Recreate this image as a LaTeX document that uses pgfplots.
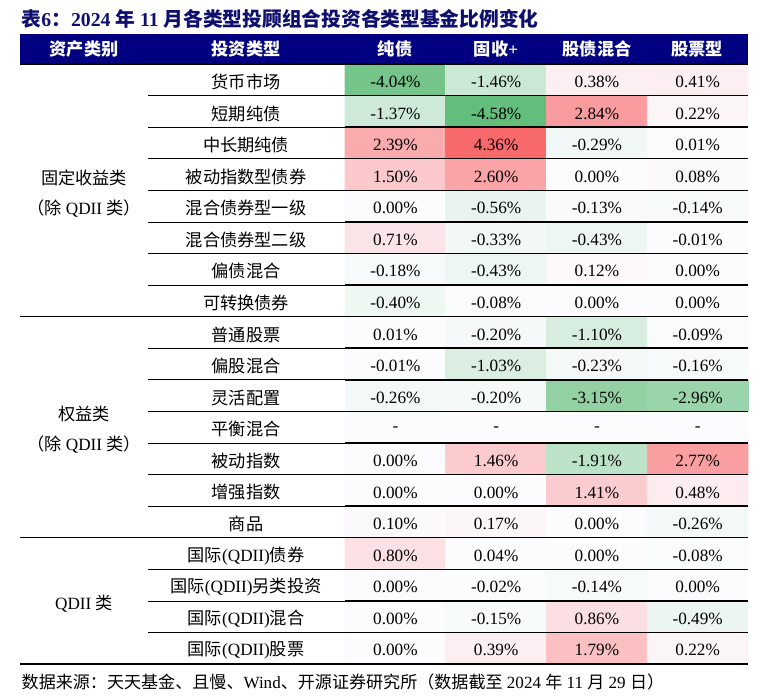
\documentclass[border=0pt]{standalone}
\usepackage{fontspec}
\setmainfont{Liberation Serif}
\newfontfamily\cjk{Noto Sans CJK SC}
\newcommand\zh[1]{{\cjk #1}}
\usepackage{pgfplots}
\pgfplotsset{compat=1.18}
\usepackage{pgfplotstable}
\definecolor{hdr}{RGB}{0,0,128}
\definecolor{ttl}{RGB}{15,15,110}
\newcommand\bodyfont{\fontsize{12.9}{14}\selectfont}

\pgfplotstableread{
x y c lab
395.375 79.79 -4.04 -4.04\%
496.125 79.79 -1.46 -1.46\%
596.875 79.79 0.38 0.38\%
697.625 79.79 0.41 0.41\%
395.375 111.37 -1.37 -1.37\%
496.125 111.37 -4.58 -4.58\%
596.875 111.37 2.84 2.84\%
697.625 111.37 0.22 0.22\%
395.375 142.95 2.39 2.39\%
496.125 142.95 4.36 4.36\%
596.875 142.95 -0.29 -0.29\%
697.625 142.95 0.01 0.01\%
395.375 174.53 1.50 1.50\%
496.125 174.53 2.60 2.60\%
596.875 174.53 0.00 0.00\%
697.625 174.53 0.08 0.08\%
395.375 206.11 0.00 0.00\%
496.125 206.11 -0.56 -0.56\%
596.875 206.11 -0.13 -0.13\%
697.625 206.11 -0.14 -0.14\%
395.375 237.68 0.71 0.71\%
496.125 237.68 -0.33 -0.33\%
596.875 237.68 -0.43 -0.43\%
697.625 237.68 -0.01 -0.01\%
395.375 269.26 -0.18 -0.18\%
496.125 269.26 -0.43 -0.43\%
596.875 269.26 0.12 0.12\%
697.625 269.26 0.00 0.00\%
395.375 300.84 -0.40 -0.40\%
496.125 300.84 -0.08 -0.08\%
596.875 300.84 0.00 0.00\%
697.625 300.84 0.00 0.00\%
395.375 332.42 0.01 0.01\%
496.125 332.42 -0.20 -0.20\%
596.875 332.42 -1.10 -1.10\%
697.625 332.42 -0.09 -0.09\%
395.375 364.00 -0.01 -0.01\%
496.125 364.00 -1.03 -1.03\%
596.875 364.00 -0.23 -0.23\%
697.625 364.00 -0.16 -0.16\%
395.375 395.58 -0.26 -0.26\%
496.125 395.58 -0.20 -0.20\%
596.875 395.58 -3.15 -3.15\%
697.625 395.58 -2.96 -2.96\%
395.375 427.16 0 -
496.125 427.16 0 -
596.875 427.16 0 -
697.625 427.16 0 -
395.375 458.74 0.00 0.00\%
496.125 458.74 1.46 1.46\%
596.875 458.74 -1.91 -1.91\%
697.625 458.74 2.77 2.77\%
395.375 490.32 0.00 0.00\%
496.125 490.32 0.00 0.00\%
596.875 490.32 1.41 1.41\%
697.625 490.32 0.48 0.48\%
395.375 521.89 0.10 0.10\%
496.125 521.89 0.17 0.17\%
596.875 521.89 0.00 0.00\%
697.625 521.89 -0.26 -0.26\%
395.375 553.47 0.80 0.80\%
496.125 553.47 0.04 0.04\%
596.875 553.47 0.00 0.00\%
697.625 553.47 -0.08 -0.08\%
395.375 585.05 0.00 0.00\%
496.125 585.05 -0.02 -0.02\%
596.875 585.05 -0.14 -0.14\%
697.625 585.05 0.00 0.00\%
395.375 616.63 0.00 0.00\%
496.125 616.63 -0.15 -0.15\%
596.875 616.63 0.86 0.86\%
697.625 616.63 -0.49 -0.49\%
395.375 648.21 0.00 0.00\%
496.125 648.21 0.39 0.39\%
596.875 648.21 1.79 1.79\%
697.625 648.21 0.22 0.22\%
}\cells

\begin{document}
\begin{tikzpicture}
\begin{axis}[
  scale only axis, width=578.25pt, height=524.25pt,
  xmin=0, xmax=771, ymin=0, ymax=699, y dir=reverse,
  hide axis, clip=false,
  colormap={gwr}{rgb255(0pt)=(99,190,123); rgb255(458pt)=(252,252,255); rgb255(894pt)=(248,105,107)},
  point meta min=-4.58, point meta max=4.36,
]
\path (axis cs:0,0) rectangle (axis cs:771,699);
% header band
\fill[hdr] (axis cs:20,34) rectangle (axis cs:748,64);
% heat cells
\addplot[matrix plot*, mesh/cols=4, point meta=explicit] table[x=x, y=y, meta=c]{\cells};
% cell values
\addplot[draw=none, mark=none, nodes near coords, point meta=explicit symbolic,
  nodes near coords style={anchor=center, font=\bodyfont, text=black, yshift=-1.6pt}]
  table[x=x, y=y, meta=lab]{\cells};
% lines
\draw[line width=0.8pt] (axis cs:20,64) -- (axis cs:748,64);
\pgfplotsinvokeforeach{95.58,127.16,158.74,190.32,221.89,253.47,285.05,348.21,379.79,411.37,442.95,474.53,506.11,569.26,600.84,632.42}{
  \draw[line width=0.5pt] (axis cs:148,#1) -- (axis cs:345,#1);
  \draw[line width=1.1pt] (axis cs:345,#1) -- (axis cs:748,#1);
}
\pgfplotsinvokeforeach{316.63,537.68}{
  \draw[line width=0.6pt] (axis cs:20,#1) -- (axis cs:345,#1);
  \draw[line width=1.1pt] (axis cs:345,#1) -- (axis cs:748,#1);
}
\draw[line width=0.8pt] (axis cs:20,664) -- (axis cs:345,664);
\draw[line width=1.1pt] (axis cs:345,664) -- (axis cs:748,664);
% title
\node[anchor=west, text=ttl, font=\fontsize{14.8}{16}\selectfont\bfseries] at (axis cs:17,19)
  {\zh{表}6\zh{：}2024 \zh{年} 11 \zh{月各类型投顾组合投资各类型基金比例变化}};
% header labels
\begin{scope}[every node/.style={text=white, font=\bodyfont\bfseries}]
\node at (axis cs:84,49) {\zh{资产类别}};
\node at (axis cs:246,49) {\zh{投资类型}};
\node at (axis cs:395,49) {\zh{纯债}};
\node at (axis cs:496,49) {\zh{固收}+};
\node at (axis cs:597,49) {\zh{股债混合}};
\node at (axis cs:697,49) {\zh{股票型}};
\end{scope}
% row labels
\begin{scope}[every node/.style={font=\bodyfont, yshift=-1.6pt}]
\node at (axis cs:246,79.79) {\zh{货币市场}};
\node at (axis cs:246,111.37) {\zh{短期纯债}};
\node at (axis cs:246,142.95) {\zh{中长期纯债}};
\node at (axis cs:246,174.53) {\zh{被动指数型债券}};
\node at (axis cs:246,206.11) {\zh{混合债券型一级}};
\node at (axis cs:246,237.68) {\zh{混合债券型二级}};
\node at (axis cs:246,269.26) {\zh{偏债混合}};
\node at (axis cs:246,300.84) {\zh{可转换债券}};
\node at (axis cs:246,332.42) {\zh{普通股票}};
\node at (axis cs:246,364.00) {\zh{偏股混合}};
\node at (axis cs:246,395.58) {\zh{灵活配置}};
\node at (axis cs:246,427.16) {\zh{平衡混合}};
\node at (axis cs:246,458.74) {\zh{被动指数}};
\node at (axis cs:246,490.32) {\zh{增强指数}};
\node at (axis cs:246,521.89) {\zh{商品}};
\node at (axis cs:246,553.47) {\zh{国际}(QDII)\zh{债券}};
\node at (axis cs:246,585.05) {\zh{国际}(QDII)\zh{另类投资}};
\node at (axis cs:246,616.63) {\zh{国际}(QDII)\zh{混合}};
\node at (axis cs:246,648.21) {\zh{国际}(QDII)\zh{股票}};
% asset classes
\node at (axis cs:84,176) {\zh{固定收益类}};
\node at (axis cs:84,206) {\zh{（除} QDII \zh{类）}};
\node at (axis cs:84,412) {\zh{权益类}};
\node at (axis cs:84,442) {\zh{（除} QDII \zh{类）}};
\node at (axis cs:84,602) {QDII \zh{类}};
\end{scope}
% footer
\node[anchor=west, font=\fontsize{12.8}{14}\selectfont] at (axis cs:17,682)
  {\zh{数据来源：天天基金、且慢、}Wind\zh{、开源证券研究所（数据截至} 2024 \zh{年} 11 \zh{月} 29 \zh{日）}};
\end{axis}
\end{tikzpicture}
\end{document}
